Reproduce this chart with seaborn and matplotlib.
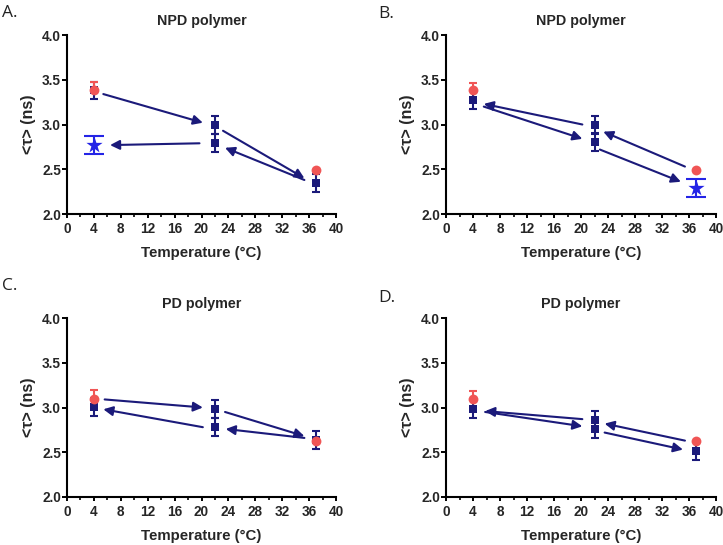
import matplotlib
matplotlib.use("Agg")
import matplotlib.pyplot as plt
from matplotlib.ticker import MultipleLocator
import seaborn as sns
import pandas as pd

sns.set_style("ticks")
plt.rcParams['font.family'] = ['Liberation Sans', 'DejaVu Sans']

NAVY = "#1b1a7a"
RED = "#f05555"
STAR = "#2424e6"

panel_letters = ["A.", "B.", "C.", "D."]
titles = ["NPD polymer", "NPD polymer", "PD polymer", "PD polymer"]

# square (navy) points: temperature, tau, error
sq_x = [[4, 22, 22, 37], [4, 22, 22, 37], [4, 22, 22, 37], [4, 22, 22, 37]]
sq_y = [[3.38, 2.99, 2.79, 2.35], [3.27, 2.99, 2.80, 2.30], [3.01, 2.98, 2.78, 2.64], [2.98, 2.86, 2.76, 2.51]]
sq_e = [[0.10, 0.10, 0.10, 0.10], [0.10, 0.10, 0.10, 0.00], [0.10, 0.10, 0.10, 0.10], [0.10, 0.10, 0.10, 0.10]]
# in panel B the 37 degC square is replaced by the star
sq_show = [[1, 1, 1, 1], [1, 1, 1, 0], [1, 1, 1, 1], [1, 1, 1, 1]]

# red circles: temperature, tau, upper error
red_x = [[4, 37], [4, 37], [4, 37], [4, 37]]
red_y = [[3.38, 2.49], [3.38, 2.49], [3.09, 2.63], [3.09, 2.63]]
red_e = [[0.09, 0.0], [0.08, 0.0], [0.10, 0.0], [0.09, 0.0]]

# stars (bright blue)
star_x = [[4], [37], [], []]
star_y = [[2.77], [2.29], [], []]
star_e = [[0.10], [0.10], [], []]

# arrows: (x0, y0, x1, y1)
arrows = [
    [(5.4, 3.34, 20.2, 3.02), (23.2, 2.93, 35.3, 2.40), (35.3, 2.38, 23.5, 2.74), (19.7, 2.79, 6.4, 2.77)],
    [(20.2, 3.00, 5.6, 3.23), (5.6, 3.20, 20.2, 2.84), (35.4, 2.53, 23.3, 2.92), (22.8, 2.72, 34.8, 2.36)],
    [(5.6, 3.09, 20.2, 3.00), (23.5, 2.95, 35.3, 2.68), (35.3, 2.66, 23.6, 2.76), (20.2, 2.78, 5.4, 2.98)],
    [(20.2, 2.87, 5.8, 2.96), (5.8, 2.95, 20.2, 2.79), (35.4, 2.63, 23.5, 2.82), (23.5, 2.72, 35.1, 2.53)],
]

fig = plt.figure(figsize=(7.23, 5.45), dpi=100)
W, H = 723, 545
boxes = [(67, 35, 336, 214), (446, 35, 716, 214), (67, 318, 336, 497), (446, 318, 716, 497)]
letter_pos = [(2, 17), (378, 18), (2, 290), (378, 302)]

for i in range(4):
    l, t, r, b = boxes[i]
    ax = fig.add_axes([l / W, 1 - b / H, (r - l) / W, (b - t) / H])
    ax.set_xlim(0, 40)
    ax.set_ylim(2.0, 4.0)

    # navy squares with error bars
    xs = [x for x, s in zip(sq_x[i], sq_show[i]) if s]
    ys = [y for y, s in zip(sq_y[i], sq_show[i]) if s]
    es = [e for e, s in zip(sq_e[i], sq_show[i]) if s]
    ax.errorbar(xs, ys, yerr=es, fmt="none", ecolor=NAVY, elinewidth=1.5, capsize=3.2, capthick=1.5, zorder=2)
    df_sq = pd.DataFrame({"x": xs, "y": ys})
    sns.scatterplot(data=df_sq, x="x", y="y", marker="s", s=32, color=NAVY, edgecolor=NAVY, linewidth=0, ax=ax, zorder=3)

    # stars
    if star_x[i]:
        ax.errorbar(star_x[i], star_y[i], yerr=star_e[i], fmt="none", ecolor=STAR, elinewidth=1.5, capsize=7, capthick=1.5, zorder=2)
        df_st = pd.DataFrame({"x": star_x[i], "y": star_y[i]})
        sns.scatterplot(data=df_st, x="x", y="y", marker="*", s=150, color=STAR, edgecolor=STAR, linewidth=0, ax=ax, zorder=3)

    # red circles with upper error
    ax.errorbar(red_x[i], red_y[i], yerr=[[0] * len(red_e[i]), red_e[i]], fmt="none", ecolor=RED, elinewidth=1.5, capsize=3.2, capthick=1.5, zorder=4)
    df_r = pd.DataFrame({"x": red_x[i], "y": red_y[i]})
    sns.scatterplot(data=df_r, x="x", y="y", marker="o", s=50, color=RED, edgecolor=RED, linewidth=0, ax=ax, zorder=5)

    for (x0, y0, x1, y1) in arrows[i]:
        ax.annotate("", xy=(x1, y1), xytext=(x0, y0),
                    arrowprops=dict(arrowstyle="-|>", color=NAVY, lw=1.5, mutation_scale=14, shrinkA=0, shrinkB=0),
                    zorder=6)

    ax.xaxis.set_minor_locator(MultipleLocator(2))
    ax.set_xticks([0, 4, 8, 12, 16, 20, 24, 28, 32, 36, 40])
    ax.set_yticks([2.0, 2.5, 3.0, 3.5, 4.0])
    ax.set_yticklabels(["2.0", "2.5", "3.0", "3.5", "4.0"])
    for lab in ax.get_xticklabels() + ax.get_yticklabels():
        lab.set_fontweight("bold")
        lab.set_fontsize(9.8)
    ax.tick_params(axis="y", which="major", direction="out", length=3.8, width=1.4, color="black", pad=0.5)
    ax.tick_params(axis="x", which="major", direction="out", length=3.0, width=1.4, color="black", pad=3)
    ax.tick_params(axis="x", which="minor", direction="out", length=2.2, width=1.2, color="black")
    sns.despine(ax=ax)
    for sp in ["left", "bottom"]:
        ax.spines[sp].set_linewidth(1.5)
        ax.spines[sp].set_color("black")

    ax.set_xlabel("Temperature (°C)", fontsize=10.8, fontweight="bold", labelpad=7)
    ax.set_ylabel("<τ> (ns)", fontsize=11.5, fontweight="bold", labelpad=4)
    ax.set_title(titles[i], fontsize=10.3, fontweight="bold", pad=7)

    lx, ly = letter_pos[i]
    fig.text(lx / W, 1 - ly / H, panel_letters[i], fontsize=12.5, family=["Open Sans", "DejaVu Sans"], color="#222222")

fig.savefig("out.png", dpi=100)
